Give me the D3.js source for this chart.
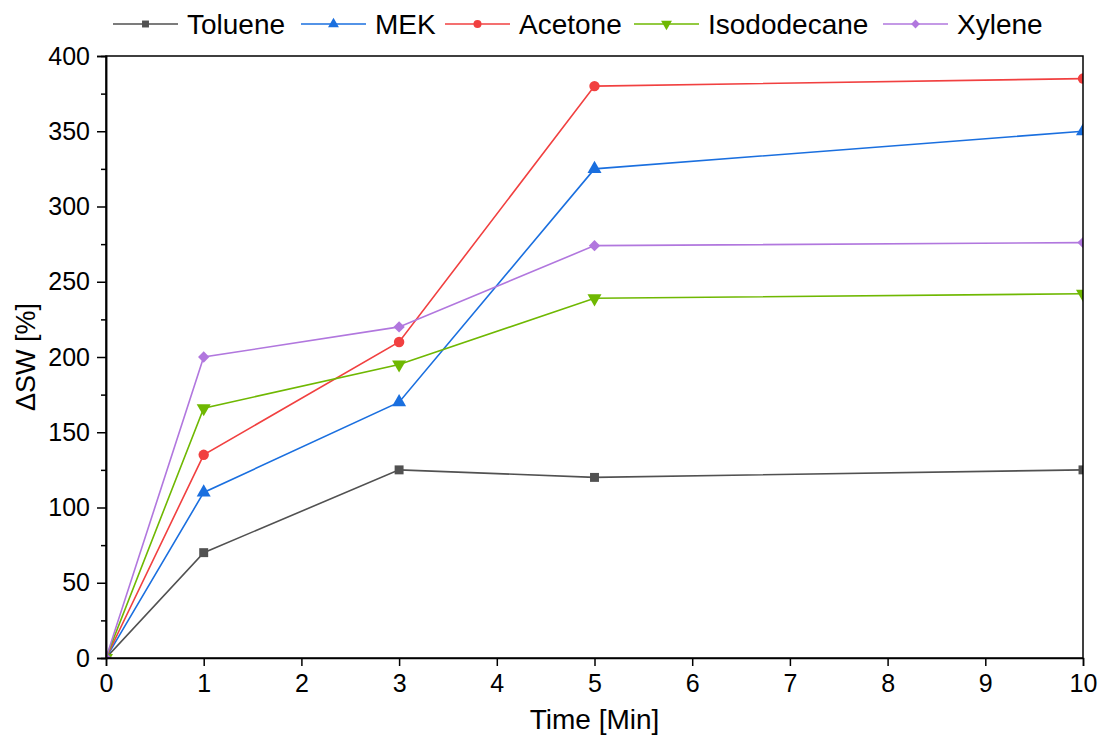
<!DOCTYPE html>
<html>
<head>
<meta charset="utf-8">
<script src="https://cdn.jsdelivr.net/npm/d3@7"></script>
<style>
	body { margin: 0; background: #fff; }
	svg { display: block; font-family: "Liberation Sans", Arial, sans-serif; }
</style>
</head>
<body>
<svg id="chart" width="1099" height="740"></svg>
<script>
// sample times [min]
var times = [0, 1, 3, 5, 10];

// swelling values [%] per solvent
var toluene     = [0, 70, 125, 120, 125];
var mek         = [0, 110, 170, 325, 350];
var acetone     = [0, 135, 210, 380, 385];
var isododecane = [0, 166, 195, 239, 242];
var xylene      = [0, 200, 220, 274, 276];

var seriesNames = ["Toluene", "MEK", "Acetone", "Isododecane", "Xylene"];
var xTicks = [0, 1, 2, 3, 4, 5, 6, 7, 8, 9, 10];
var yTicks = [0, 50, 100, 150, 200, 250, 300, 350, 400];
var yMinorTicks = [25, 75, 125, 175, 225, 275, 325, 375];

function Chart() {
	var svg = d3.select("#chart");
	var left = 106, right = 1083, top = 56, bottom = 658;

	var x = d3.scaleLinear().domain([0, 10]).range([left, right]);
	var y = d3.scaleLinear().domain([0, 400]).range([bottom, top]);

	var colors = ["#515151", "#1A6FDF", "#F14040", "#6FB802", "#B177DE"];
	var symbols = [d3.symbolSquare, d3.symbolTriangle, d3.symbolCircle, d3.symbolTriangle, d3.symbolSquare];
	var sizes = [80, 85, 85, 85, 64];
	// extra rotation per marker: inverted triangle, square turned into diamond
	var rotations = [0, 0, 0, 180, 45];
	var values = [toluene, mek, acetone, isododecane, xylene];

	svg.append("defs").append("clipPath").attr("id", "plot-clip")
		.append("rect")
		.attr("x", left).attr("y", top)
		.attr("width", right - left).attr("height", bottom - top);

	// series
	var line = d3.line()
		.x(function (d) { return x(d[0]); })
		.y(function (d) { return y(d[1]); });

	var plot = svg.append("g").attr("clip-path", "url(#plot-clip)");

	values.forEach(function (vals, i) {
		var pts = times.map(function (t, j) { return [t, vals[j]]; });
		plot.append("path")
			.datum(pts)
			.attr("d", line)
			.attr("fill", "none")
			.attr("stroke", colors[i])
			.attr("stroke-width", 1.6);

		plot.selectAll(".m" + i)
			.data(pts)
			.enter().append("path")
			.attr("class", "m" + i)
			.attr("d", d3.symbol().type(symbols[i]).size(sizes[i]))
			.attr("transform", function (d) {
				return "translate(" + x(d[0]) + "," + y(d[1]) + ") rotate(" + rotations[i] + ")";
			})
			.attr("fill", colors[i]);
	});

	// frame
	svg.append("rect")
		.attr("x", left).attr("y", top)
		.attr("width", right - left).attr("height", bottom - top)
		.attr("fill", "none")
		.attr("stroke", "#000")
		.attr("stroke-width", 1.5);

	// axes
	var xAxis = d3.axisBottom(x).tickValues(xTicks).tickSize(8).tickPadding(8).tickFormat(d3.format("d"));
	var gx = svg.append("g").attr("transform", "translate(0," + bottom + ")").call(xAxis);

	var yAxis = d3.axisLeft(y).tickValues(yTicks).tickSize(9).tickPadding(7).tickFormat(d3.format("d"));
	var gy = svg.append("g").attr("transform", "translate(" + left + ",0)").call(yAxis);

	var gyMinor = svg.append("g").attr("transform", "translate(" + left + ",0)")
		.call(d3.axisLeft(y).tickValues(yMinorTicks).tickSize(5).tickFormat(""));

	[gx, gy, gyMinor].forEach(function (g) {
		g.select(".domain").attr("stroke", "#000").attr("stroke-width", 1.5);
		g.selectAll(".tick line").attr("stroke", "#000").attr("stroke-width", 1.5);
		g.selectAll(".tick text")
			.attr("fill", "#000")
			.style("font-size", "25px")
			.style("font-family", "'Liberation Sans', Arial, sans-serif");
	});

	// axis titles
	svg.append("text")
		.attr("x", (left + right) / 2)
		.attr("y", 729)
		.attr("text-anchor", "middle")
		.style("font-size", "28px")
		.text("Time [Min]");

	svg.append("text")
		.attr("transform", "translate(35," + ((top + bottom) / 2) + ") rotate(-90)")
		.attr("text-anchor", "middle")
		.style("font-size", "27px")
		.text("\u0394SW [%]");

	// legend
	var legendX = [113, 301, 445, 634, 883];
	var legend = svg.append("g");
	seriesNames.forEach(function (name, i) {
		var g = legend.append("g").attr("transform", "translate(" + legendX[i] + ",24)");
		g.append("line")
			.attr("x1", 0).attr("x2", 65)
			.attr("stroke", colors[i])
			.attr("stroke-width", 1.6);
		g.append("path")
			.attr("d", d3.symbol().type(symbols[i]).size(sizes[i] * 0.6))
			.attr("transform", "translate(32.5,0) rotate(" + rotations[i] + ")")
			.attr("fill", colors[i]);
		g.append("text")
			.attr("x", 74)
			.attr("y", 10)
			.style("font-size", "28px")
			.text(name);
	});
}

Chart();
</script>
</body>
</html>
